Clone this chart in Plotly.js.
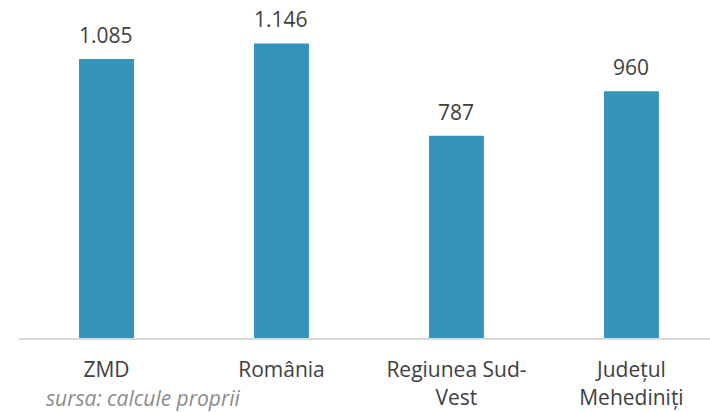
<!DOCTYPE html>
<html>
<head>
<meta charset="utf-8">
<script src="https://cdn.plot.ly/plotly-3.0.1.min.js"></script>
<style>html,body{margin:0;padding:0;background:#fff;}#chart{width:710px;height:412px;}</style>
</head>
<body>
<div id="chart"></div>
<script>
const categories = ["ZMD", "România", "Regiunea Sud-<br>Vest", "Județul<br>Mehediniți"];
const values = [1085, 1146, 787, 960];
const valueLabels = ["1.085", "1.146", "787", "960"];
const sourceNote = "sursa: calcule proprii";

const barColor = "#3494BA";
const textColor = "#404040";
const fontFamily = "'Open Sans', Lato, sans-serif";

const trace = {
  type: "bar",
  x: categories,
  y: values,
  marker: {color: barColor},
  width: 0.314,
  hoverinfo: "none"
};

const annotations = categories.map((c, i) => ({
  x: c, y: values[i], xref: "x", yref: "y",
  text: valueLabels[i], showarrow: false,
  yanchor: "bottom", yshift: 8,
  font: {family: fontFamily, size: 21, color: textColor}
}));
annotations.push({
  xref: "paper", yref: "paper", x: 0.039, y: -74/338, xanchor: "left", yanchor: "bottom",
  borderpad: 0, borderwidth: 0,
  text: "<i>" + sourceNote + "</i>", showarrow: false,
  font: {family: fontFamily, size: 21, color: "#8c8c8c"}
});

const layout = {
  width: 710, height: 412,
  margin: {l: 19, r: 0, t: 0, b: 74},
  paper_bgcolor: "#fff", plot_bgcolor: "#fff",
  separators: ",.",
  showlegend: false,
  font: {family: fontFamily, size: 21, color: textColor},
  xaxis: {
    type: "category",
    range: [-0.5, 3.449],
    showgrid: false, zeroline: false,
    showline: true, linecolor: "#d9d9d9", linewidth: 2,
    ticks: "outside", ticklen: 12, tickcolor: "rgba(0,0,0,0)",
    tickfont: {family: fontFamily, size: 21, color: textColor},
    fixedrange: true
  },
  yaxis: {
    range: [0, 1315],
    visible: false, showgrid: false, zeroline: false,
    fixedrange: true
  },
  annotations: annotations
};

Plotly.newPlot("chart", [trace], layout, {displayModeBar: false, staticPlot: true});
</script>
</body>
</html>
